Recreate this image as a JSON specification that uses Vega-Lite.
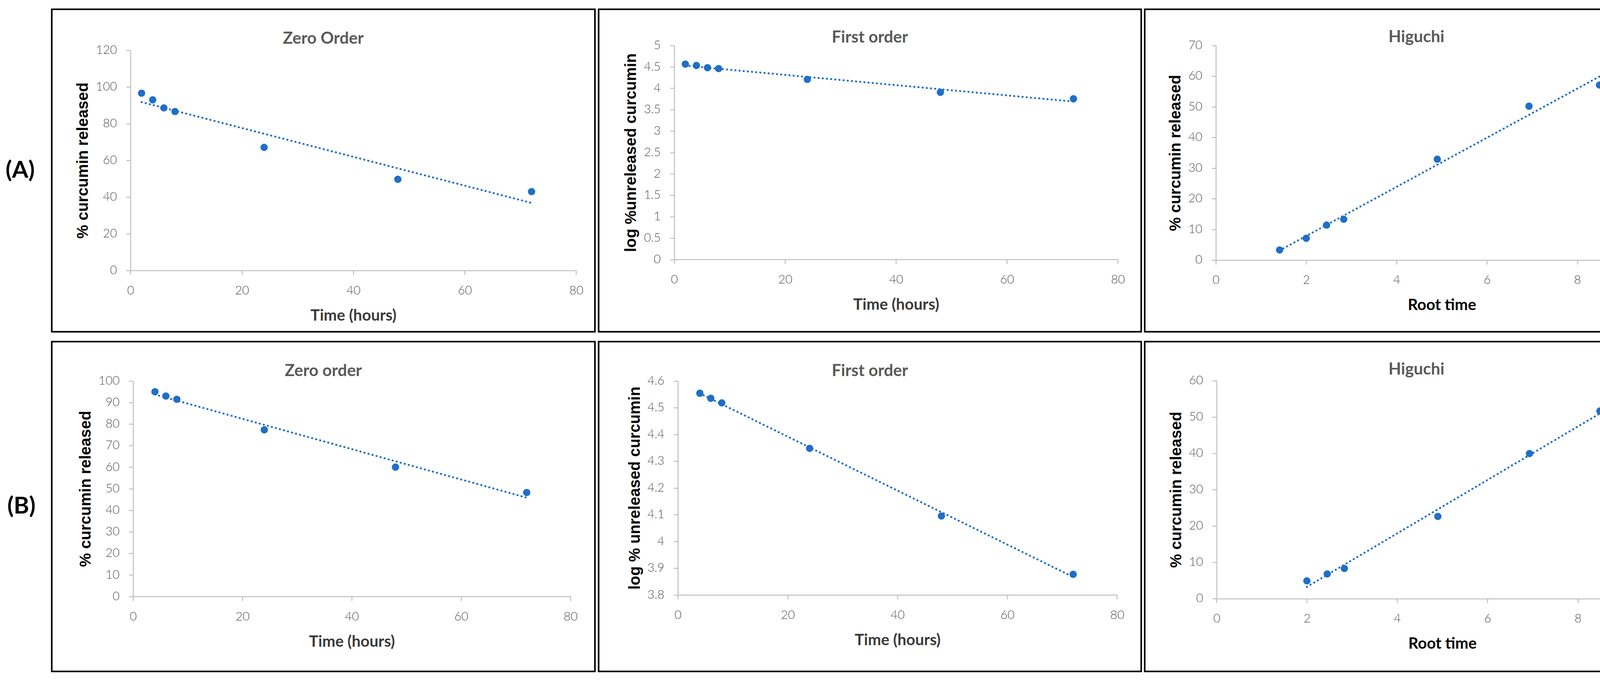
{
  "$schema": "https://vega.github.io/schema/vega-lite/v6.json",
  "background": "white",
  "padding": {"left": 13.5, "top": 21.7, "right": 10, "bottom": 10},
  "datasets": {
    "a1": [{"time": 2, "value": 96.6}, {"time": 4, "value": 93.0}, {"time": 6, "value": 88.6}, {"time": 8, "value": 86.6}, {"time": 24, "value": 67.1}, {"time": 48, "value": 49.7}, {"time": 72, "value": 43.0}],
    "a2": [{"time": 2, "value": 4.565}, {"time": 4, "value": 4.533}, {"time": 6, "value": 4.48}, {"time": 8, "value": 4.46}, {"time": 24, "value": 4.208}, {"time": 48, "value": 3.905}, {"time": 72, "value": 3.755}],
    "a3": [{"root_time": 1.41, "value": 3.3}, {"root_time": 2.0, "value": 7.1}, {"root_time": 2.45, "value": 11.4}, {"root_time": 2.83, "value": 13.3}, {"root_time": 4.9, "value": 32.9}, {"root_time": 6.93, "value": 50.2}, {"root_time": 8.49, "value": 57.1}],
    "b1": [{"time": 4, "value": 95.0}, {"time": 6, "value": 93.0}, {"time": 8, "value": 91.5}, {"time": 24, "value": 77.3}, {"time": 48, "value": 60.0}, {"time": 72, "value": 48.2}],
    "b2": [{"time": 4, "value": 4.554}, {"time": 6, "value": 4.535}, {"time": 8, "value": 4.518}, {"time": 24, "value": 4.348}, {"time": 48, "value": 4.095}, {"time": 72, "value": 3.877}],
    "b3": [{"root_time": 2.0, "value": 4.9}, {"root_time": 2.45, "value": 6.8}, {"root_time": 2.83, "value": 8.3}, {"root_time": 4.9, "value": 22.6}, {"root_time": 6.93, "value": 39.9}, {"root_time": 8.49, "value": 51.6}]
  },
  "spacing": 21,
  "vconcat": [
    {
      "bounds": "flush",
      "spacing": 9,
      "title": {"text": "(A)", "orient": "left", "frame": "bounds", "angle": 0, "align": "right", "baseline": "middle", "anchor": "middle", "offset": -33, "font": "Lato", "fontSize": 60, "fontWeight": "bold", "color": "#000000"},
      "hconcat": [
        {
          "width": 1390.5, "height": 825.8,
          "title": {"text": "Zero Order", "baseline": "top", "offset": -97},
          "data": {"name": "a1"},
          "encoding": {
            "x": {"field": "time", "type": "quantitative", "scale": {"domain": [0, 80], "nice": false, "zero": false, "range": [201.4, 1342.4]}, "axis": {"title": "Time (hours)", "offset": -156.9, "values": [0, 20, 40, 60, 80]}},
            "y": {"field": "value", "type": "quantitative", "scale": {"domain": [0, 120], "nice": false, "zero": false, "range": [668.9, 105.0]}, "axis": {"title": "% curcumin released", "offset": -201.4, "values": [0, 20, 40, 60, 80, 100, 120]}}
          },
          "layer": [
            {"transform": [{"regression": "value", "on": "time"}], "mark": {"type": "line", "color": "#1f6fc6", "strokeWidth": 5, "strokeDash": [0.5, 10.2], "strokeCap": "round"}},
            {"mark": {"type": "circle", "size": 350, "color": "#1f6fc6", "opacity": 1}}
          ]
        },
        {
          "width": 1389, "height": 825.8,
          "title": {"text": "First order", "baseline": "top", "offset": -94},
          "data": {"name": "a2"},
          "encoding": {
            "x": {"field": "time", "type": "quantitative", "scale": {"domain": [0, 80], "nice": false, "zero": false, "range": [193.6, 1329.1]}, "axis": {"title": "Time (hours)", "offset": -185.2, "values": [0, 20, 40, 60, 80]}},
            "y": {"field": "value", "type": "quantitative", "scale": {"domain": [0, 5], "nice": false, "zero": false, "range": [640.6, 92.8]}, "axis": {"title": "log %unreleased curcumin", "offset": -193.6, "values": [0, 0.5, 1, 1.5, 2, 2.5, 3, 3.5, 4, 4.5, 5], "format": "~g"}}
          },
          "layer": [
            {"transform": [{"regression": "value", "on": "time"}], "mark": {"type": "line", "color": "#1f6fc6", "strokeWidth": 5, "strokeDash": [0.5, 10.2], "strokeCap": "round"}},
            {"mark": {"type": "circle", "size": 350, "color": "#1f6fc6", "opacity": 1}}
          ]
        },
        {
          "width": 1391, "height": 825.8,
          "title": {"text": "Higuchi", "baseline": "top", "offset": -93},
          "data": {"name": "a3"},
          "encoding": {
            "x": {"field": "root_time", "type": "quantitative", "scale": {"domain": [0, 10], "nice": false, "zero": false, "range": [182.1, 1338.9]}, "axis": {"title": "Root time", "titleColor": "#000000", "offset": -183.6, "values": [0, 2, 4, 6, 8, 10]}},
            "y": {"field": "value", "type": "quantitative", "scale": {"domain": [0, 70], "nice": false, "zero": false, "range": [642.2, 92.8]}, "axis": {"title": "% curcumin released", "offset": -182.1, "values": [0, 10, 20, 30, 40, 50, 60, 70]}}
          },
          "layer": [
            {"transform": [{"regression": "value", "on": "root_time"}], "mark": {"type": "line", "color": "#1f6fc6", "strokeWidth": 5, "strokeDash": [0.5, 10.2], "strokeCap": "round"}},
            {"mark": {"type": "circle", "size": 350, "color": "#1f6fc6", "opacity": 1}}
          ]
        }
      ]
    },
    {
      "bounds": "flush",
      "spacing": 9,
      "title": {"text": "(B)", "orient": "left", "frame": "bounds", "angle": 0, "align": "right", "baseline": "middle", "anchor": "middle", "offset": -33, "font": "Lato", "fontSize": 60, "fontWeight": "bold", "color": "#000000"},
      "hconcat": [
        {
          "width": 1390.5, "height": 844.5,
          "title": {"text": "Zero order", "baseline": "top", "offset": -97},
          "data": {"name": "b1"},
          "encoding": {
            "x": {"field": "time", "type": "quantitative", "scale": {"domain": [0, 80], "nice": false, "zero": false, "range": [208.2, 1327.8]}, "axis": {"title": "Time (hours)", "offset": -192.0, "values": [0, 20, 40, 60, 80]}},
            "y": {"field": "value", "type": "quantitative", "scale": {"domain": [0, 100], "nice": false, "zero": false, "range": [652.5, 100.7]}, "axis": {"title": "% curcumin released", "offset": -208.2, "values": [0, 10, 20, 30, 40, 50, 60, 70, 80, 90, 100]}}
          },
          "layer": [
            {"transform": [{"regression": "value", "on": "time"}], "mark": {"type": "line", "color": "#1f6fc6", "strokeWidth": 5, "strokeDash": [0.5, 10.2], "strokeCap": "round"}},
            {"mark": {"type": "circle", "size": 350, "color": "#1f6fc6", "opacity": 1}}
          ]
        },
        {
          "width": 1389, "height": 844.5,
          "title": {"text": "First order", "baseline": "top", "offset": -97},
          "data": {"name": "b2"},
          "encoding": {
            "x": {"field": "time", "type": "quantitative", "scale": {"domain": [0, 80], "nice": false, "zero": false, "range": [202.8, 1327.3]}, "axis": {"title": "Time (hours)", "offset": -195.9, "values": [0, 20, 40, 60, 80]}},
            "y": {"field": "value", "type": "quantitative", "scale": {"domain": [3.8, 4.6], "nice": false, "zero": false, "range": [648.6, 100.7]}, "axis": {"title": "log % unreleased curcumin", "offset": -202.8, "values": [3.8, 3.9, 4, 4.1, 4.2, 4.3, 4.4, 4.5, 4.6], "format": "~g"}}
          },
          "layer": [
            {"transform": [{"regression": "value", "on": "time"}], "mark": {"type": "line", "color": "#1f6fc6", "strokeWidth": 5, "strokeDash": [0.5, 10.2], "strokeCap": "round"}},
            {"mark": {"type": "circle", "size": 350, "color": "#1f6fc6", "opacity": 1}}
          ]
        },
        {
          "width": 1391, "height": 844.5,
          "title": {"text": "Higuchi", "baseline": "top", "offset": -93},
          "data": {"name": "b3"},
          "encoding": {
            "x": {"field": "root_time", "type": "quantitative", "scale": {"domain": [0, 10], "nice": false, "zero": false, "range": [184.0, 1339.8]}, "axis": {"title": "Root time", "titleColor": "#000000", "offset": -186.3, "values": [0, 2, 4, 6, 8, 10]}},
            "y": {"field": "value", "type": "quantitative", "scale": {"domain": [0, 60], "nice": false, "zero": false, "range": [658.2, 99.5]}, "axis": {"title": "% curcumin released", "offset": -184.0, "values": [0, 10, 20, 30, 40, 50, 60]}}
          },
          "layer": [
            {"transform": [{"regression": "value", "on": "root_time"}], "mark": {"type": "line", "color": "#1f6fc6", "strokeWidth": 5, "strokeDash": [0.5, 10.2], "strokeCap": "round"}},
            {"mark": {"type": "circle", "size": 350, "color": "#1f6fc6", "opacity": 1}}
          ]
        }
      ]
    }
  ],
  "config": {
    "view": {"stroke": "#000000", "strokeWidth": 4},
    "title": {"font": "Lato", "fontSize": 42, "fontWeight": "bold", "color": "#595959", "anchor": "middle", "frame": "group"},
    "axis": {"grid": false, "domainColor": "#bfbfbf", "domainWidth": 2.5, "tickColor": "#bfbfbf", "tickWidth": 2.5, "tickSize": 11, "labelFont": "Lato", "labelFontSize": 31, "labelFontWeight": 300, "labelColor": "#595959", "labelFlush": false, "labelOverlap": false},
    "axisX": {"labelPadding": 26, "titlePadding": 29, "titleFont": "Lato", "titleFontSize": 40, "titleFontWeight": "bold", "titleColor": "#3a3a3a"},
    "axisY": {"labelPadding": 24, "titlePadding": 12, "titleFont": "Liberation Sans", "titleFontSize": 40, "titleFontWeight": "bold", "titleColor": "#000000"}
  }
}
